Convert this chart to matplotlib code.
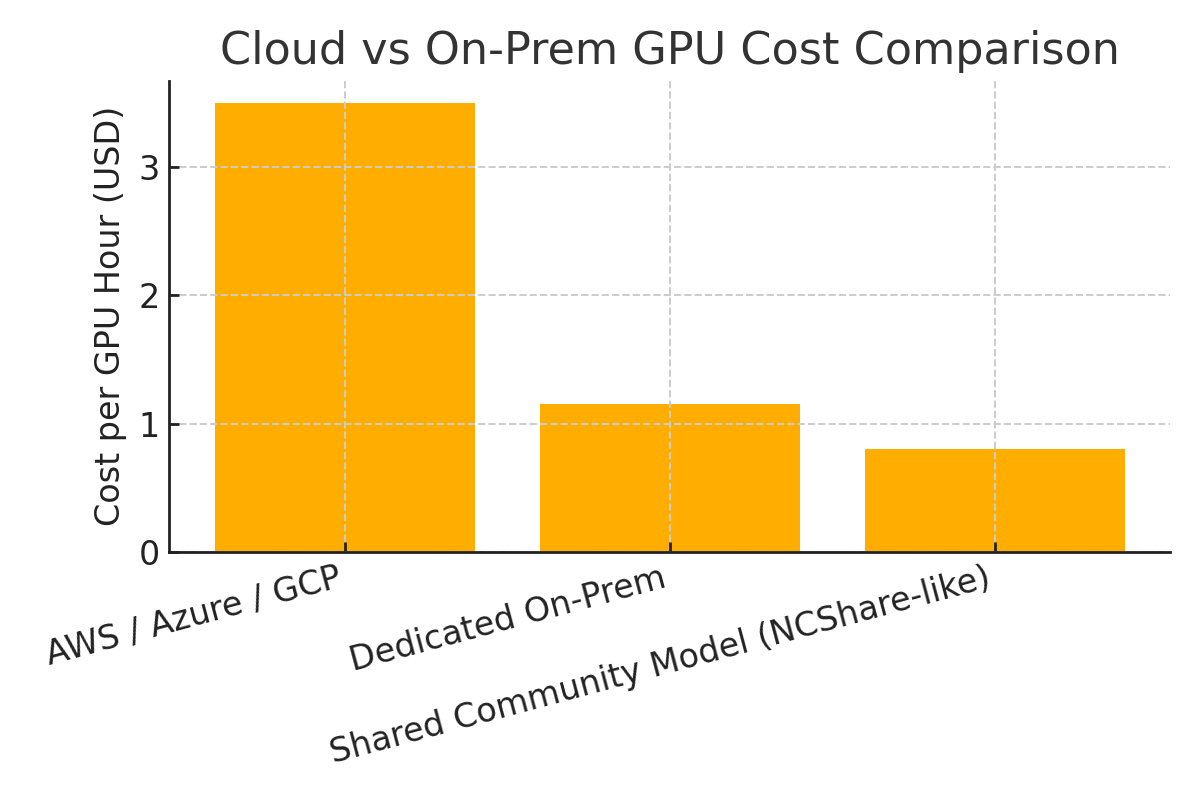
import matplotlib
matplotlib.use("Agg")
import matplotlib.pyplot as plt

categories = ["AWS / Azure / GCP", "Dedicated On-Prem", "Shared Community Model (NCShare-like)"]
costs = [3.5, 1.15, 0.8]

fig, ax = plt.subplots(figsize=(6, 4), dpi=200)
ax.bar(categories, costs, color="#FFAE00", width=0.8)
ax.set_axisbelow(False)
ax.grid(True, linestyle="--", color="#cccccc", linewidth=0.7)
ax.set_title("Cloud vs On-Prem GPU Cost Comparison", fontsize=16, color="#333333")
ax.set_ylabel("Cost per GPU Hour (USD)", fontsize=12, color="#222222")
ax.tick_params(labelsize=12, colors="#222222", direction="in", width=1.0)
plt.setp(ax.get_xticklabels(), rotation=15, ha="right")
for s in ["top", "right"]:
    ax.spines[s].set_visible(False)
for s in ["left", "bottom"]:
    ax.spines[s].set_color("#222222")
    ax.spines[s].set_linewidth(1.0)
    ax.spines[s].set_zorder(3)
fig.tight_layout()
fig.savefig("out.png", dpi=200)
